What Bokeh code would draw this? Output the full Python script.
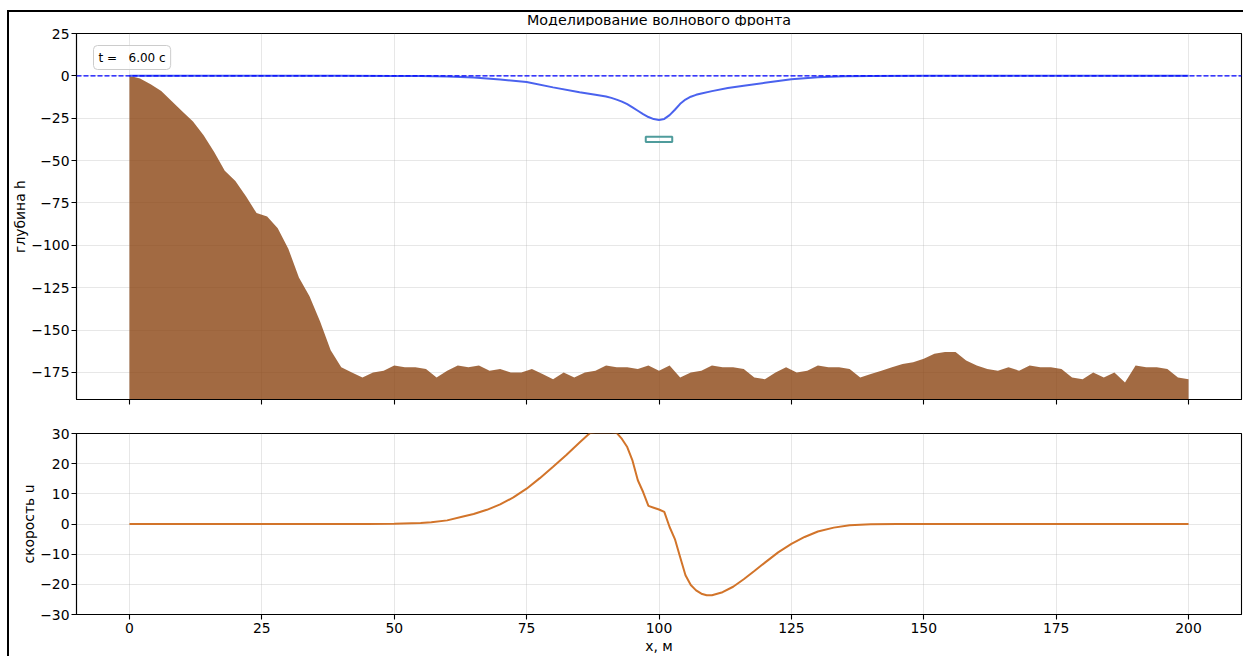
from bokeh.plotting import figure
from bokeh.layouts import column
from bokeh.models import (Range1d, FixedTicker, CustomJSTickFormatter, Span, Label,
                          CustomLabelingPolicy)
from bokeh.embed import file_html
from bokeh.resources import INLINE

# ---------------- data ----------------
title_text = "Моделирование волнового фронта"
time_label = "t = \u00a0\u00a06.00 с"
x_ticks = [0, 25, 50, 75, 100, 125, 150, 175, 200]
h_ticks = [25, 0, -25, -50, -75, -100, -125, -150, -175]
u_ticks = [30, 20, 10, 0, -10, -20, -30]

# bathymetry (sea floor), x = 0, 2, ..., 200
bed_x = list(range(0, 201, 2))
bed_h = [0, -1.5, -5, -9, -15, -21, -27, -35, -45, -56,
         -62, -71, -81, -83, -90, -102, -119, -130, -145, -162,
         -172, -175, -178, -175, -174, -171, -172, -172, -173, -178,
         -174, -171, -172, -171, -174, -173, -175, -175, -173, -176,
         -179, -175, -178, -175, -174, -171, -172, -172, -173, -171,
         -174, -171, -178, -175, -174, -171, -172, -172, -173, -178,
         -179, -175, -172, -175, -174, -171, -172, -172, -173, -178,
         -176, -174, -172, -170, -169, -167, -164, -163, -163, -168,
         -171, -173, -174, -172, -174, -171, -172, -172, -173, -178,
         -179, -175, -178, -175, -181, -171, -172, -172, -173, -178,
         -179]

# free surface elevation
eta_x = [0, 40, 50, 55, 60, 65, 70, 75, 80, 85, 88, 90, 91, 92, 93, 94, 95, 96, 97,
         98, 99, 100, 101, 102, 103, 104, 105, 106, 107, 108, 110, 113, 116, 120, 125,
         130, 135, 140, 150, 200]
eta = [0, 0, -0.03, -0.1, -0.35, -0.9, -2.2, -3.6, -6.8, -9.7, -11.2, -12.2, -13.0,
       -14.0, -15.2, -16.7, -18.6, -20.6, -22.6, -24.3, -25.5, -26.0, -25.4, -23.2,
       -20.0, -16.5, -14.0, -12.3, -11.2, -10.4, -9.0, -7.2, -5.8, -4.1, -2.0, -0.8,
       -0.3, -0.1, 0, 0]

# velocity
u_x = [0, 45, 50, 55, 57, 60, 63, 65, 67.5, 70, 72.5, 75, 77.5, 80, 82.5, 85, 86.5,
       87, 88, 89, 90, 91, 92, 93, 94, 95, 96, 97, 98, 99, 100, 101, 102, 103, 104,
       105, 106, 107, 108, 109, 110, 112, 114, 116, 118, 120, 122.5, 125, 127.5, 130,
       133, 136, 140, 145, 150, 200]
u = [0, 0, 0.05, 0.3, 0.6, 1.2, 2.5, 3.3, 4.7, 6.5, 8.8, 11.7, 15.2, 19.0, 22.9,
     27.0, 29.4, 30.2, 30.3, 30.3, 30.3, 30.3, 30.2, 28.2, 25.5, 21.0, 14.5, 10.6,
     6.0, 5.4, 4.8, 4.0, -1.0, -5.0, -11.0, -17.0, -20.2, -22.0, -23.1, -23.6, -23.6,
     -22.6, -20.8, -18.3, -15.6, -12.8, -9.4, -6.6, -4.3, -2.5, -1.2, -0.45, -0.1,
     -0.02, 0, 0]

# source marker
src_x = [100]
src_y = [-37.5]
src_w = [5]
src_h = [3]

# ---------------- styling ----------------
FONT = "DejaVu Sans"
minus_fmt = CustomJSTickFormatter(code="return (tick < 0 ? '\\u2212' : '') + Math.abs(tick).toString();")


def style(p):
    p.outline_line_color = "black"
    p.outline_line_width = 1.1
    p.background_fill_color = "white"
    p.border_fill_color = "white"
    for ax in (p.xaxis, p.yaxis):
        ax.axis_line_color = "black"
        ax.axis_line_width = 1.1
        ax.major_tick_line_color = "black"
        ax.major_tick_line_width = 1.1
        ax.major_tick_in = 0
        ax.major_tick_out = 5
        ax.minor_tick_line_color = None
        ax.major_label_text_font = FONT
        ax.major_label_text_font_size = "13.9px"
        ax.major_label_text_color = "black"
        ax.major_label_standoff = 2
        ax.axis_label_text_font = FONT
        ax.axis_label_text_font_size = "13.9px"
        ax.axis_label_text_font_style = "normal"
        ax.axis_label_text_color = "black"
        ax.axis_label_standoff = 0
    p.grid.grid_line_color = "#b0b0b0"
    p.grid.grid_line_alpha = 0.3
    p.grid.grid_line_width = 1


x_range = Range1d(-10, 210)
FIG_W = 1234
B_LEFT, B_RIGHT = 67, 2
FRAME_W = FIG_W - B_LEFT - B_RIGHT
TITLE_H = 14
TOP_PAD = 7
TOP_H = 366
BOT_H = 181

# title strip
pt = figure(width=FIG_W, height=TITLE_H, x_range=Range1d(0, 1), y_range=Range1d(0, 1),
            output_backend="svg", toolbar_location=None, min_border=0)
pt.axis.visible = False
pt.grid.visible = False
pt.outline_line_color = None
pt.add_layout(Label(x=FRAME_W / 2, y=TITLE_H - 7, x_units="screen",
                    y_units="screen", text=title_text, text_align="center",
                    text_baseline="middle", text_font=FONT, text_font_size="14.3px",
                    text_color="black"))

p1 = figure(width=FIG_W, height=TOP_PAD + TOP_H + 17, x_range=x_range,
            y_range=Range1d(min(bed_h) - 10, 25),
            output_backend="svg", toolbar_location=None,
            min_border_left=B_LEFT, min_border_right=B_RIGHT, min_border_top=TOP_PAD,
            min_border_bottom=17)
style(p1)
p1.xaxis.ticker = FixedTicker(ticks=x_ticks)
p1.xaxis.major_label_policy = CustomLabelingPolicy(code="return []")
p1.xaxis.major_label_text_font_size = "1px"
p1.xaxis.major_label_standoff = 0
p1.yaxis.ticker = FixedTicker(ticks=h_ticks)
p1.yaxis.formatter = minus_fmt
p1.yaxis.axis_label = "глубина h"

p1.varea(x=bed_x, y1=bed_h, y2=min(bed_h) - 10, fill_color="#8B4513", fill_alpha=0.8)
p1.add_layout(Span(location=0, dimension="width", line_color="#0000ff",
                   line_width=1.3, line_dash="5 2"))
p1.line(eta_x, eta, line_color="#4a62ee", line_width=2)
p1.rect(x=src_x, y=src_y, width=src_w, height=src_h, fill_color=None,
        line_color="#4f9c9c", line_width=2)
p1.add_layout(Label(x=17, y=TOP_H - 12, x_units="screen", y_units="screen", text=time_label,
                    anchor="top_left", text_font=FONT, text_font_size="12px",
                    text_color="black", border_line_color="#cccccc",
                    background_fill_color="white", background_fill_alpha=0.8,
                    padding=5, border_radius=4))

p2 = figure(width=FIG_W, height=17 + BOT_H + 42, x_range=x_range, y_range=Range1d(-30, 30),
            output_backend="svg", toolbar_location=None,
            min_border_left=B_LEFT, min_border_right=B_RIGHT, min_border_top=17,
            min_border_bottom=42)
style(p2)
p2.xaxis.ticker = FixedTicker(ticks=x_ticks)
p2.xaxis.axis_label = "x, м"
p2.xaxis.axis_label_standoff = 2
p2.xaxis.major_label_standoff = 3
p2.yaxis.ticker = FixedTicker(ticks=u_ticks)
p2.yaxis.formatter = minus_fmt
p2.yaxis.axis_label = "скорость u"
p2.line(u_x, u, line_color="#d2742a", line_width=2)

layout = column(pt, p1, p2, styles={"border-left": "2px solid black",
                                    "border-top": "2px solid black",
                                    "margin-left": "7px",
                                    "margin-top": "10px"})

open("out.html", "w").write(file_html(layout, INLINE))
